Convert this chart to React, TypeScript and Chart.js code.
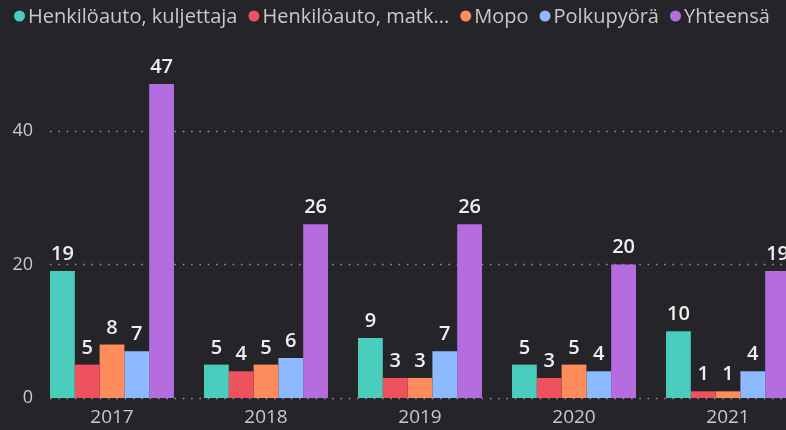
import { useEffect, useRef } from "react";
import { Chart, registerables } from "chart.js";

Chart.register(...registerables);

const years = ["2017", "2018", "2019", "2020", "2021"];
const kuljettaja = [19, 5, 9, 5, 10];
const matkustaja = [5, 4, 3, 3, 1];
const mopo = [8, 5, 3, 5, 1];
const polkupyora = [7, 6, 7, 4, 4];
const yhteensa = [47, 26, 26, 20, 19];
const seriesNames = ["Henkilöauto, kuljettaja", "Henkilöauto, matkustaja", "Mopo", "Polkupyörä", "Yhteensä"];
const legendLabels = ["Henkilöauto, kuljettaja", "Henkilöauto, matk...", "Mopo", "Polkupyörä", "Yhteensä"];
const yTicks = [0, 20, 40];

const BG = "#252429";
const COLORS = ["#4ACDBD", "#F0515F", "#FF8C5C", "#8DB9FF", "#B46CDF"];
const TEXT = "#c9c8cc";
const LABEL = "#eeeeee";
const FONT = "'Open Sans', 'Noto Sans', sans-serif";
const CAT_PCT = 0.805;

const gridPlugin = {
  id: "dotGrid",
  beforeDatasetsDraw(chart: any) {
    const { ctx, chartArea, scales } = chart;
    const x = scales.x;
    const y = scales.y;
    const catW = x.width / years.length;
    const startX = x.getPixelForValue(0) - (catW * CAT_PCT) / 2;
    ctx.save();
    ctx.strokeStyle = "rgba(190,190,195,0.75)";
    ctx.lineWidth = 1.5;
    ctx.setLineDash([1.5, 6.8]);
    for (const v of yTicks) {
      const py = Math.round(y.getPixelForValue(v)) + 0.5;
      ctx.beginPath();
      ctx.moveTo(startX, py);
      ctx.lineTo(chartArea.right + 20, py);
      ctx.stroke();
    }
    ctx.restore();
  },
};

const labelPlugin = {
  id: "valueLabels",
  afterDatasetsDraw(chart: any) {
    const { ctx } = chart;
    ctx.save();
    ctx.fillStyle = LABEL;
    ctx.font = `600 20px ${FONT}`;
    ctx.textAlign = "center";
    ctx.textBaseline = "alphabetic";
    chart.data.datasets.forEach((ds: any, i: number) => {
      const meta = chart.getDatasetMeta(i);
      meta.data.forEach((bar: any, j: number) => {
        ctx.fillText(String(ds.data[j]), bar.x, bar.y - 11);
      });
    });
    ctx.restore();
  },
};

const legendPlugin = {
  id: "topLegend",
  afterDraw(chart: any) {
    const { ctx } = chart;
    ctx.save();
    ctx.font = `20px ${FONT}`;
    ctx.textBaseline = "middle";
    ctx.textAlign = "left";
    const d = 11;
    let x = 14;
    const cy = 16;
    legendLabels.forEach((t, i) => {
      ctx.fillStyle = COLORS[i];
      ctx.beginPath();
      ctx.arc(x + d / 2, cy, d / 2, 0, Math.PI * 2);
      ctx.fill();
      x += d + 3;
      ctx.fillStyle = TEXT;
      ctx.fillText(t, x, cy + 1);
      x += ctx.measureText(t).width + 11;
    });
    ctx.restore();
  },
};

export default function App() {
  const ref = useRef<HTMLCanvasElement>(null);
  useEffect(() => {
    document.body.style.margin = "0";
    const series = [kuljettaja, matkustaja, mopo, polkupyora, yhteensa];
    const chart = new Chart(ref.current!, {
      type: "bar",
      data: {
        labels: years,
        datasets: series.map((d, i) => ({
          label: seriesNames[i],
          data: d,
          backgroundColor: COLORS[i],
          borderWidth: 0,
          categoryPercentage: CAT_PCT,
          barPercentage: 1,
        })),
      },
      options: {
        animation: false,
        responsive: false,
        devicePixelRatio: 1,
        layout: { padding: { top: 64, left: 0, right: 0, bottom: 0 } },
        plugins: { legend: { display: false }, tooltip: { enabled: false } },
        scales: {
          x: {
            offset: true,
            grid: { display: false },
            border: { display: false },
            ticks: { color: TEXT, font: { family: FONT, size: 19 }, padding: 0 },
            afterFit: (s: any) => { s.height = 32; },
          },
          y: {
            min: 0,
            max: 50,
            grid: { display: false, drawTicks: false },
            border: { display: false },
            ticks: { color: TEXT, font: { family: FONT, size: 18 }, padding: 2 },
            afterBuildTicks: (s: any) => { s.ticks = yTicks.map((v) => ({ value: v })); },
            afterFit: (s: any) => { s.width = 35; },
          },
        },
      },
      plugins: [gridPlugin, labelPlugin, legendPlugin],
    });
    return () => chart.destroy();
  }, []);
  return (
    <div style={{ position: "relative", width: 786, height: 430, overflow: "hidden", background: BG }}>
      <canvas ref={ref} width={805} height={430} style={{ display: "block", width: 805, height: 430 }} />
    </div>
  );
}
